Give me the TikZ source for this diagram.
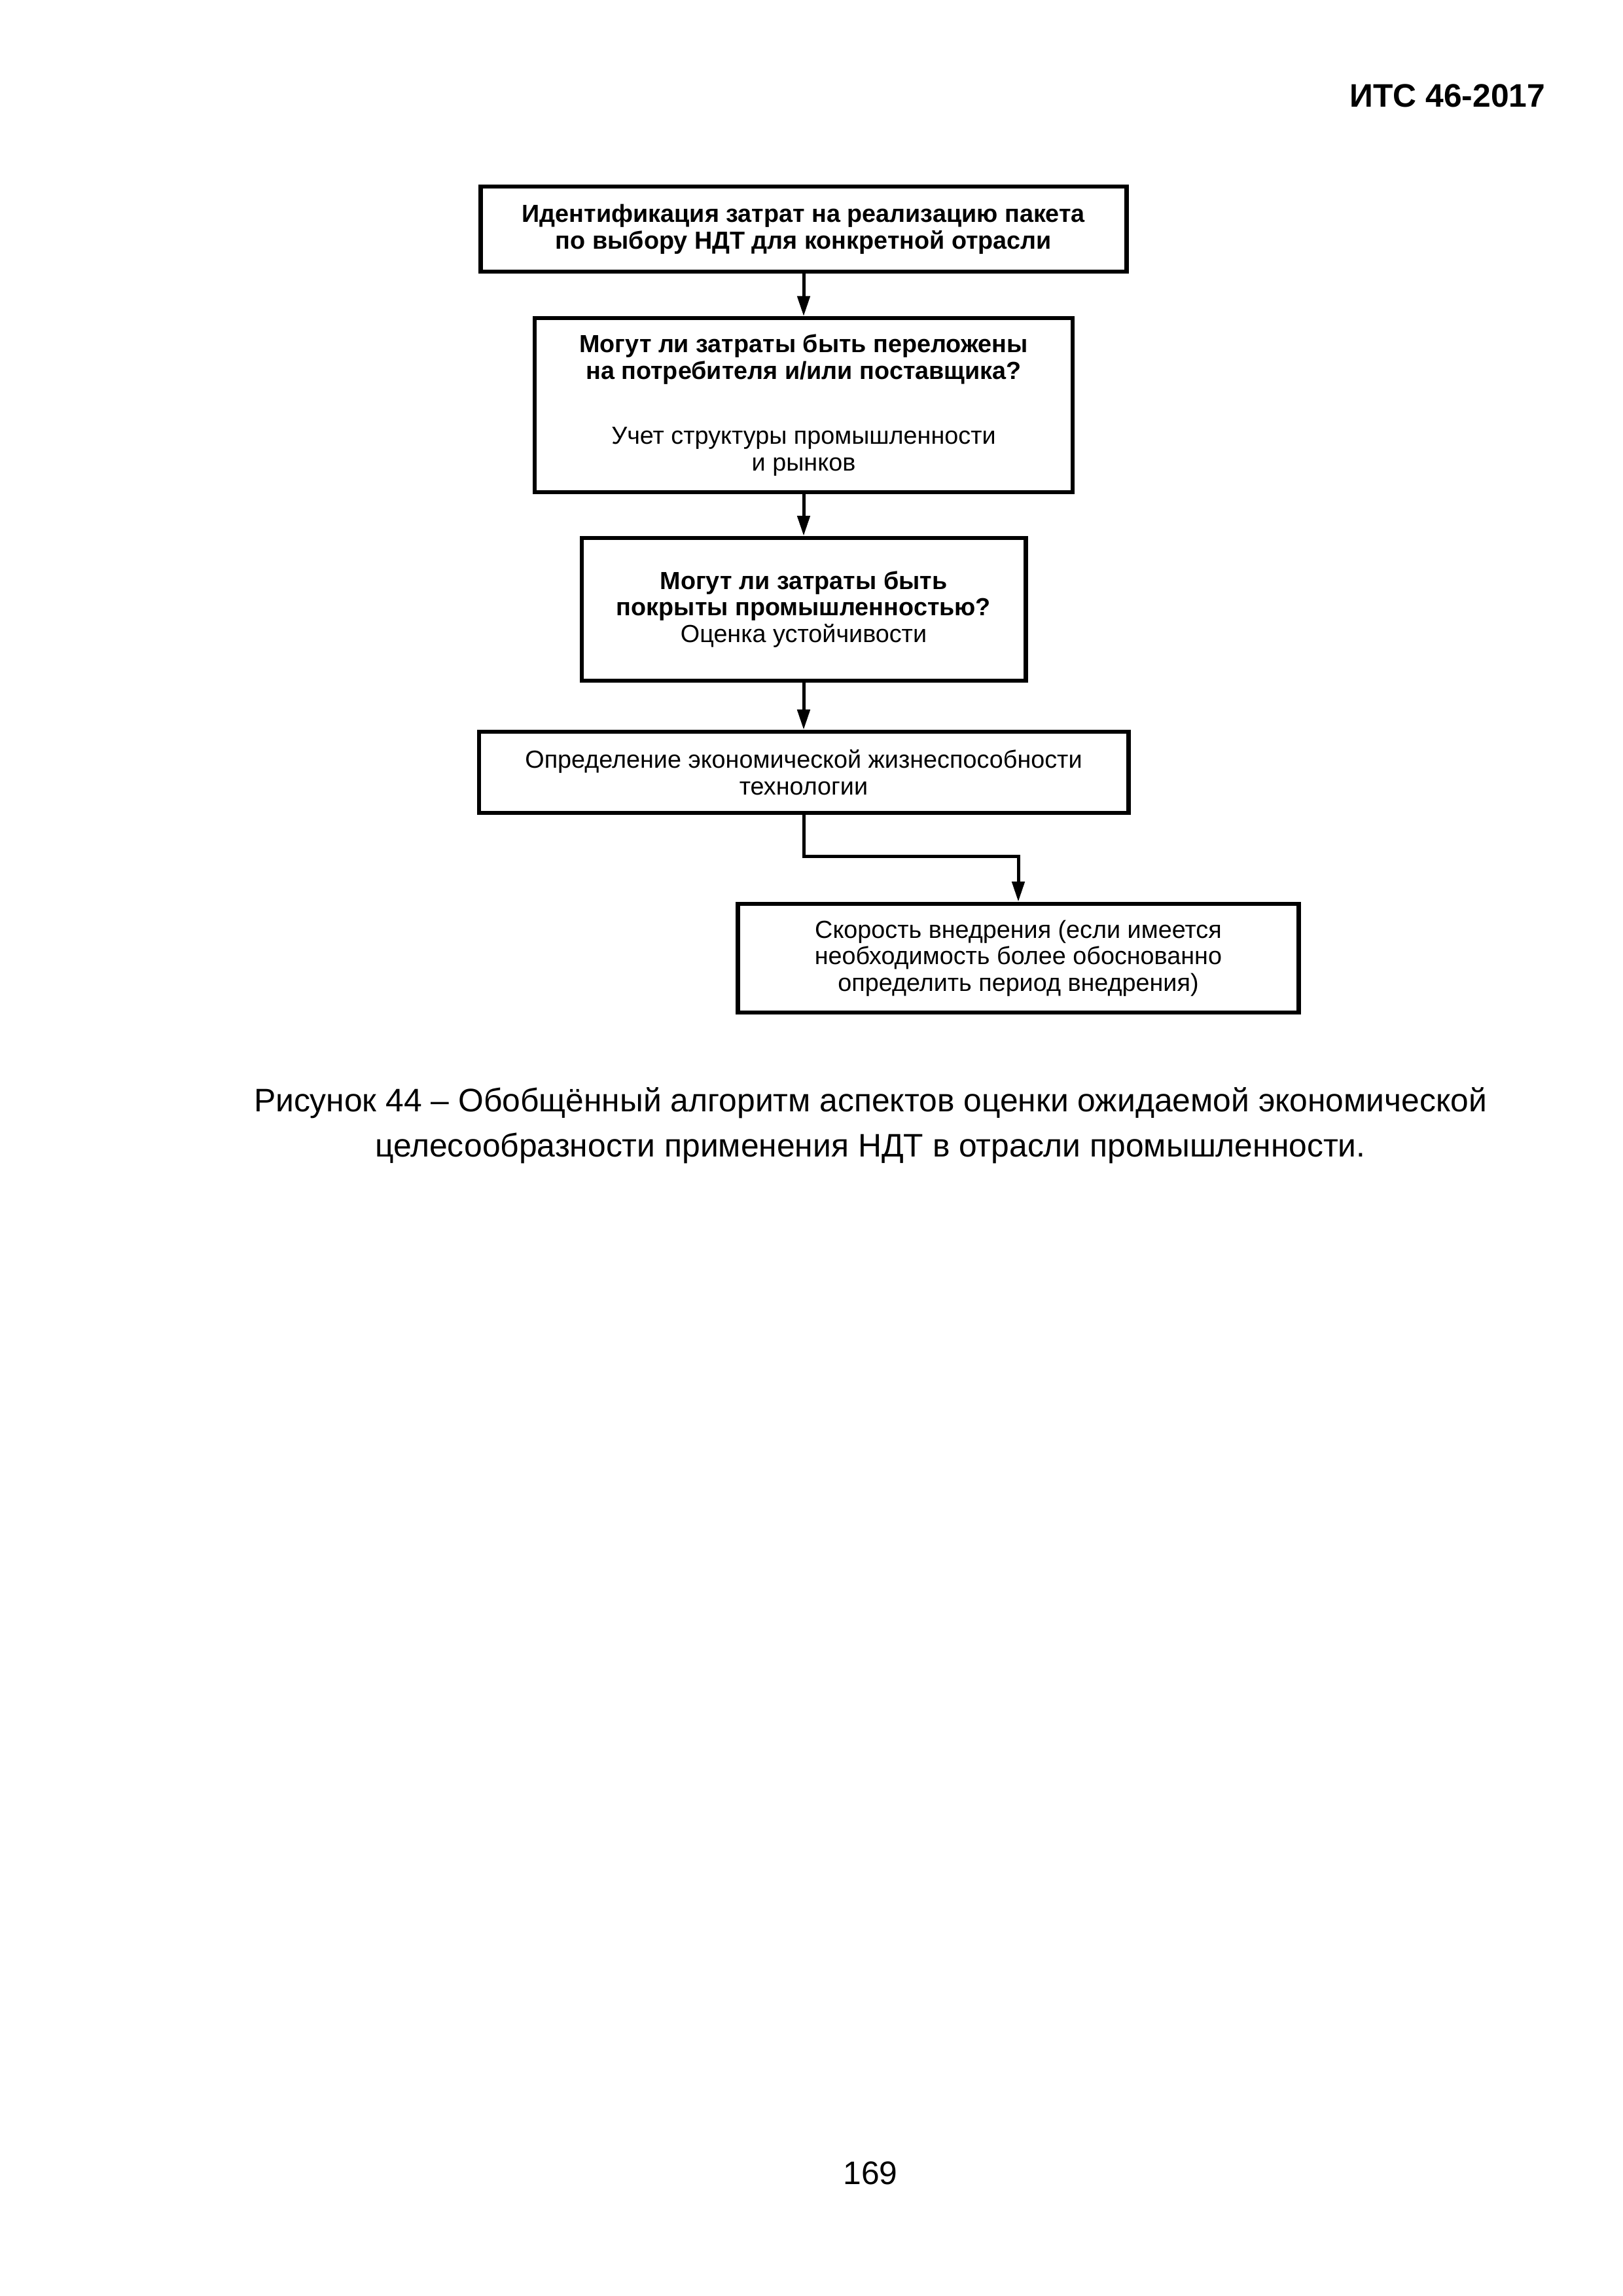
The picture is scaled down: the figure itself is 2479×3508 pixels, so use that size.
\documentclass[tikz,border=0pt]{standalone}
\usepackage{fontspec}
\setmainfont{Liberation Sans}
\usetikzlibrary{arrows.meta}

\begin{document}
\begin{tikzpicture}[x=0.084712mm, y=-0.084712mm,
        blok/.style={draw, line width=1.5pt, align=center, inner sep=2pt, font=\fontsize{9.1}{9.8}\selectfont},
        strelka/.style={-{Triangle[length=2.6mm,width=1.6mm]}, line width=1.2pt},
        podpis/.style={align=center, inner sep=0pt, font=\fontsize{12}{16.5}\selectfont}
    ]
    \useasboundingbox (0,0) rectangle (2479,3508);
    \node[podpis, anchor=base east, font=\fontsize{12}{14}\selectfont\bfseries] (hdr) at (2362,163) {ИТС 46-2017};

    \node[blok, minimum width=83.6mm, minimum height=11mm] (I) at (1228,350) {\textbf{Идентификация затрат на реализацию пакета}\\\textbf{по выбору НДТ для конкретной отрасли}};
    \node[blok, minimum width=69.6mm, minimum height=22.5mm] (P) at (1228,619) {\textbf{Могут ли затраты быть переложены}\\\textbf{на потребителя и/или поставщика?}\\[5mm]Учет структуры промышленности\\и рынков};
    \node[blok, minimum width=57.5mm, minimum height=18.5mm] (K) at (1228,931) {\textbf{Могут ли затраты быть}\\\textbf{покрыты промышленностью?}\\Оценка устойчивости};
    \node[blok, minimum width=84.1mm, minimum height=10.5mm] (E) at (1228,1180) {Определение экономической жизнеспособности\\технологии};
    \node[blok, minimum width=72.6mm, minimum height=14.1mm] (S) at (1556,1464) {Скорость внедрения (если имеется\\необходимость более обоснованно\\определить период внедрения)};
    \coordinate (lom) at (1228,1308);

    \draw[strelka] (I) -- (P);
    \draw[strelka] (P) -- (K);
    \draw[strelka] (K) -- (E);
    \draw[strelka] (E) -- (lom) -| (S);

    \node[podpis, anchor=base] (cap) at (1330,1767) {Рисунок 44 – Обобщённый алгоритм аспектов оценки ожидаемой экономической\\целесообразности применения НДТ в отрасли промышленности.};
    \node[podpis, anchor=base] (num) at (1330,3337) {169};
\end{tikzpicture}
\end{document}
